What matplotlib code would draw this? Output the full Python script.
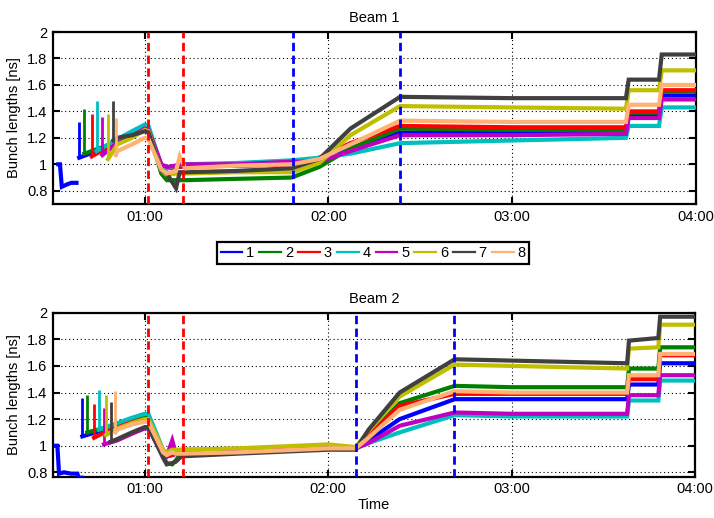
import numpy as np
import matplotlib
matplotlib.use("Agg")
import matplotlib.pyplot as plt
from matplotlib.lines import Line2D
from matplotlib.ticker import FixedLocator, FuncFormatter

plt.rcParams['font.family'] = ['Liberation Sans', 'DejaVu Sans']
plt.rcParams['font.size'] = 10.5

# ---- series labels and colours -------------------------------------------
labels = ["1", "2", "3", "4", "5", "6", "7", "8"]
colors = ["#0000ff", "#008000", "#ff0000", "#00bfbf",
          "#bf00bf", "#bfbf00", "#404040", "#ffb273"]

# ---- Beam 1 --------------------------------------------------------------
# pilot bunch before the train injection (hours, ns)
b1_pilot_t = [0.529, 0.538, 0.548, 0.580, 0.600, 0.628]
b1_pilot_v = [1.00, 1.00, 0.83, 0.85, 0.86, 0.86]
# injection time, spike height and value right after injection
b1_inj_t = [0.643, 0.671, 0.711, 0.738, 0.769, 0.800, 0.829, 0.842]
b1_inj_peak = [1.32, 1.42, 1.38, 1.48, 1.36, 1.38, 1.48, 1.35]
b1_inj_settle = [1.05, 1.08, 1.06, 1.10, 1.07, 1.04, 1.18, 1.07]
# common time base after injection (hours)
b1_t = [0.85, 0.93, 1.00, 1.02, 1.09, 1.12, 1.17, 1.19, 1.22, 1.50,
        1.80, 1.95, 2.12, 2.39, 3.00, 3.62, 3.635, 3.80, 3.815, 4.00]
b1_s1 = [1.16, 1.21, 1.27, 1.26, 0.99, 0.97, 0.98, 0.98, 0.99, 0.99,
         1.00, 1.04, 1.12, 1.24, 1.24, 1.25, 1.37, 1.37, 1.52, 1.52]
b1_s2 = [1.17, 1.22, 1.27, 1.26, 0.93, 0.88, 0.88, 0.88, 0.88, 0.89,
         0.90, 0.98, 1.12, 1.27, 1.26, 1.26, 1.39, 1.39, 1.55, 1.55]
b1_s3 = [1.17, 1.22, 1.27, 1.26, 0.99, 0.97, 0.98, 0.98, 0.99, 0.99,
         1.00, 1.05, 1.16, 1.29, 1.28, 1.28, 1.40, 1.40, 1.56, 1.56]
b1_s4 = [1.19, 1.25, 1.30, 1.29, 0.99, 0.97, 0.99, 1.00, 1.00, 1.01,
         1.03, 1.05, 1.08, 1.16, 1.18, 1.20, 1.29, 1.29, 1.43, 1.43]
b1_s5 = [1.16, 1.21, 1.27, 1.26, 1.00, 0.98, 0.99, 1.00, 1.00, 1.00,
         1.02, 1.02, 1.10, 1.22, 1.22, 1.23, 1.35, 1.35, 1.49, 1.49]
b1_s6 = [1.15, 1.20, 1.26, 1.25, 0.95, 0.92, 0.93, 0.93, 0.93, 0.94,
         0.94, 1.01, 1.22, 1.44, 1.43, 1.42, 1.56, 1.56, 1.71, 1.71]
b1_s7 = [1.20, 1.22, 1.25, 1.24, 0.95, 0.93, 0.82, 0.94, 0.94, 0.95,
         0.97, 1.04, 1.27, 1.51, 1.50, 1.50, 1.64, 1.64, 1.83, 1.83]
b1_s8 = [1.10, 1.15, 1.20, 1.19, 0.96, 0.93, 0.95, 1.06, 0.97, 0.99,
         1.00, 1.04, 1.15, 1.33, 1.32, 1.32, 1.45, 1.45, 1.60, 1.60]
b1_vlines_red = [1.020, 1.207]
b1_vlines_blue = [1.805, 2.388]

# ---- Beam 2 --------------------------------------------------------------
b2_pilot_t = [0.516, 0.524, 0.533, 0.560, 0.600, 0.633, 0.640, 0.655]
b2_pilot_v = [1.00, 1.00, 0.79, 0.80, 0.79, 0.79, 0.76, 0.76]
b2_inj_t = [0.660, 0.687, 0.724, 0.751, 0.778, 0.789, 0.815, 0.840]
b2_inj_peak = [1.36, 1.38, 1.31, 1.42, 1.28, 1.38, 1.33, 1.41]
b2_inj_settle = [1.07, 1.10, 1.06, 1.12, 1.01, 1.08, 1.03, 1.10]
b2_t = [0.85, 0.93, 1.00, 1.02, 1.10, 1.12, 1.15, 1.17, 1.20, 1.50, 2.00,
        2.15, 2.22, 2.39, 2.69, 3.00, 3.63, 3.64, 3.80, 3.81, 4.00]
b2_s1 = [1.15, 1.19, 1.22, 1.22, 0.95, 0.92, 0.93, 0.94, 0.95, 0.96, 0.99,
         0.98, 1.04, 1.20, 1.35, 1.35, 1.35, 1.46, 1.46, 1.62, 1.62]
b2_s2 = [1.16, 1.20, 1.22, 1.22, 0.92, 0.87, 0.86, 0.89, 0.95, 0.96, 0.99,
         0.98, 1.08, 1.32, 1.45, 1.44, 1.44, 1.58, 1.58, 1.74, 1.74]
b2_s3 = [1.15, 1.18, 1.20, 1.20, 0.95, 0.92, 0.93, 0.94, 0.95, 0.96, 0.99,
         0.98, 1.08, 1.30, 1.39, 1.39, 1.39, 1.50, 1.50, 1.68, 1.68]
b2_s4 = [1.17, 1.21, 1.24, 1.24, 0.97, 0.93, 0.95, 0.96, 0.97, 0.97, 1.00,
         0.98, 1.02, 1.10, 1.23, 1.22, 1.22, 1.34, 1.34, 1.49, 1.49]
b2_s5 = [1.04, 1.09, 1.13, 1.13, 0.93, 0.92, 1.04, 0.94, 0.95, 0.96, 0.99,
         0.98, 1.02, 1.15, 1.25, 1.24, 1.24, 1.38, 1.38, 1.53, 1.53]
b2_s6 = [1.13, 1.17, 1.20, 1.20, 0.97, 0.95, 0.97, 0.97, 0.97, 0.98, 1.01,
         0.99, 1.11, 1.37, 1.61, 1.60, 1.58, 1.73, 1.74, 1.91, 1.91]
b2_s7 = [1.05, 1.10, 1.14, 1.14, 0.91, 0.86, 0.87, 0.88, 0.92, 0.94, 0.97,
         0.97, 1.12, 1.40, 1.65, 1.64, 1.62, 1.79, 1.81, 1.97, 1.97]
b2_s8 = [1.12, 1.16, 1.18, 1.18, 0.95, 0.93, 0.95, 0.94, 0.94, 0.95, 0.98,
         0.98, 1.06, 1.27, 1.41, 1.40, 1.40, 1.53, 1.53, 1.69, 1.69]
b2_vlines_red = [1.020, 1.207]
b2_vlines_blue = [2.150, 2.688]

x_ticks = [1.0, 2.0, 3.0, 4.0]
y_ticks = [0.8, 1.0, 1.2, 1.4, 1.6, 1.8, 2.0]


def build_series(i, pilot_t, pilot_v, inj_t, inj_settle, grid, vals):
    """Bunch-length trace from injection on, preceded by the pilot for bunch 1."""
    t0 = inj_t[i]
    t = [t0]
    v = [inj_settle[i]]
    for tt, vv in zip(grid, vals):
        if tt > t0 + 0.003:
            t.append(tt)
            v.append(vv)
    if i == 0:
        t = list(pilot_t) + [np.nan] + t
        v = list(pilot_v) + [np.nan] + v
    return np.array(t), np.array(v)


def hhmm(x, pos):
    total = int(round(x * 60))
    return f"{total // 60:02d}:{total % 60:02d}"


def style_axes(ax, ylim):
    ax.set_xlim(0.5, 4.0)
    ax.set_ylim(*ylim)
    ax.xaxis.set_major_locator(FixedLocator(x_ticks))
    ax.xaxis.set_major_formatter(FuncFormatter(hhmm))
    ax.yaxis.set_major_locator(FixedLocator(y_ticks))
    ax.yaxis.set_major_formatter(FuncFormatter(lambda y, p: f"{y:g}"))
    ax.grid(True, linestyle=(0, (1, 2.5)), color="black", linewidth=0.8)
    ax.tick_params(direction="in", top=True, right=True, length=5,
                   width=1.5, labelsize=10.5, pad=4)
    for sp in ax.spines.values():
        sp.set_linewidth(1.6)
    ax.set_ylabel("Bunch lengths [ns]")


fig = plt.figure(figsize=(7.14, 5.18), dpi=100)
ax1 = fig.add_axes([0.0742, 0.6062, 0.9002, 0.3320])
ax2 = fig.add_axes([0.0742, 0.0797, 0.8992, 0.3166])

beams = [
    (ax1, "Beam 1", b1_pilot_t, b1_pilot_v, b1_inj_t, b1_inj_peak,
     b1_inj_settle, b1_t,
     [b1_s1, b1_s2, b1_s3, b1_s4, b1_s5, b1_s6, b1_s7, b1_s8],
     b1_vlines_red, b1_vlines_blue, (0.70, 2.0)),
    (ax2, "Beam 2", b2_pilot_t, b2_pilot_v, b2_inj_t, b2_inj_peak,
     b2_inj_settle, b2_t,
     [b2_s1, b2_s2, b2_s3, b2_s4, b2_s5, b2_s6, b2_s7, b2_s8],
     b2_vlines_red, b2_vlines_blue, (0.767, 2.0)),
]

for (ax, title, pt, pv, it, ip, isl, grid, series,
     vred, vblue, ylim) in beams:
    for i, vals in enumerate(series):
        t, v = build_series(i, pt, pv, it, isl, grid, vals)
        ax.plot(t, v, color=colors[i], linewidth=3.0,
                solid_joinstyle="miter", zorder=3)
        # injection spike
        ax.vlines(it[i], isl[i], ip[i], color=colors[i], linewidth=2.0,
                  zorder=3)
    for xv in vred:
        ax.axvline(xv, color="#ff0000", linewidth=2.0,
                   linestyle=(0, (3, 1.6)), zorder=4)
    for xv in vblue:
        ax.axvline(xv, color="#0000ff", linewidth=2.0,
                   linestyle=(0, (3, 1.6)), zorder=4)
    style_axes(ax, ylim)
    ax.set_title(title, fontsize=10.5, pad=7)

ax2.set_xlabel("Time", labelpad=1)

handles = [Line2D([], [], color=c, linewidth=1.6) for c in colors]
leg = fig.legend(handles, labels, loc="center", bbox_to_anchor=(0.5224, 0.5116),
                 ncol=8, handlelength=1.5, handletextpad=0.25,
                 columnspacing=0.35, borderpad=0.25, fancybox=False,
                 edgecolor="black", fontsize=10.5, framealpha=1)
leg.get_frame().set_linewidth(1.6)

fig.savefig("out.png", dpi=100)
